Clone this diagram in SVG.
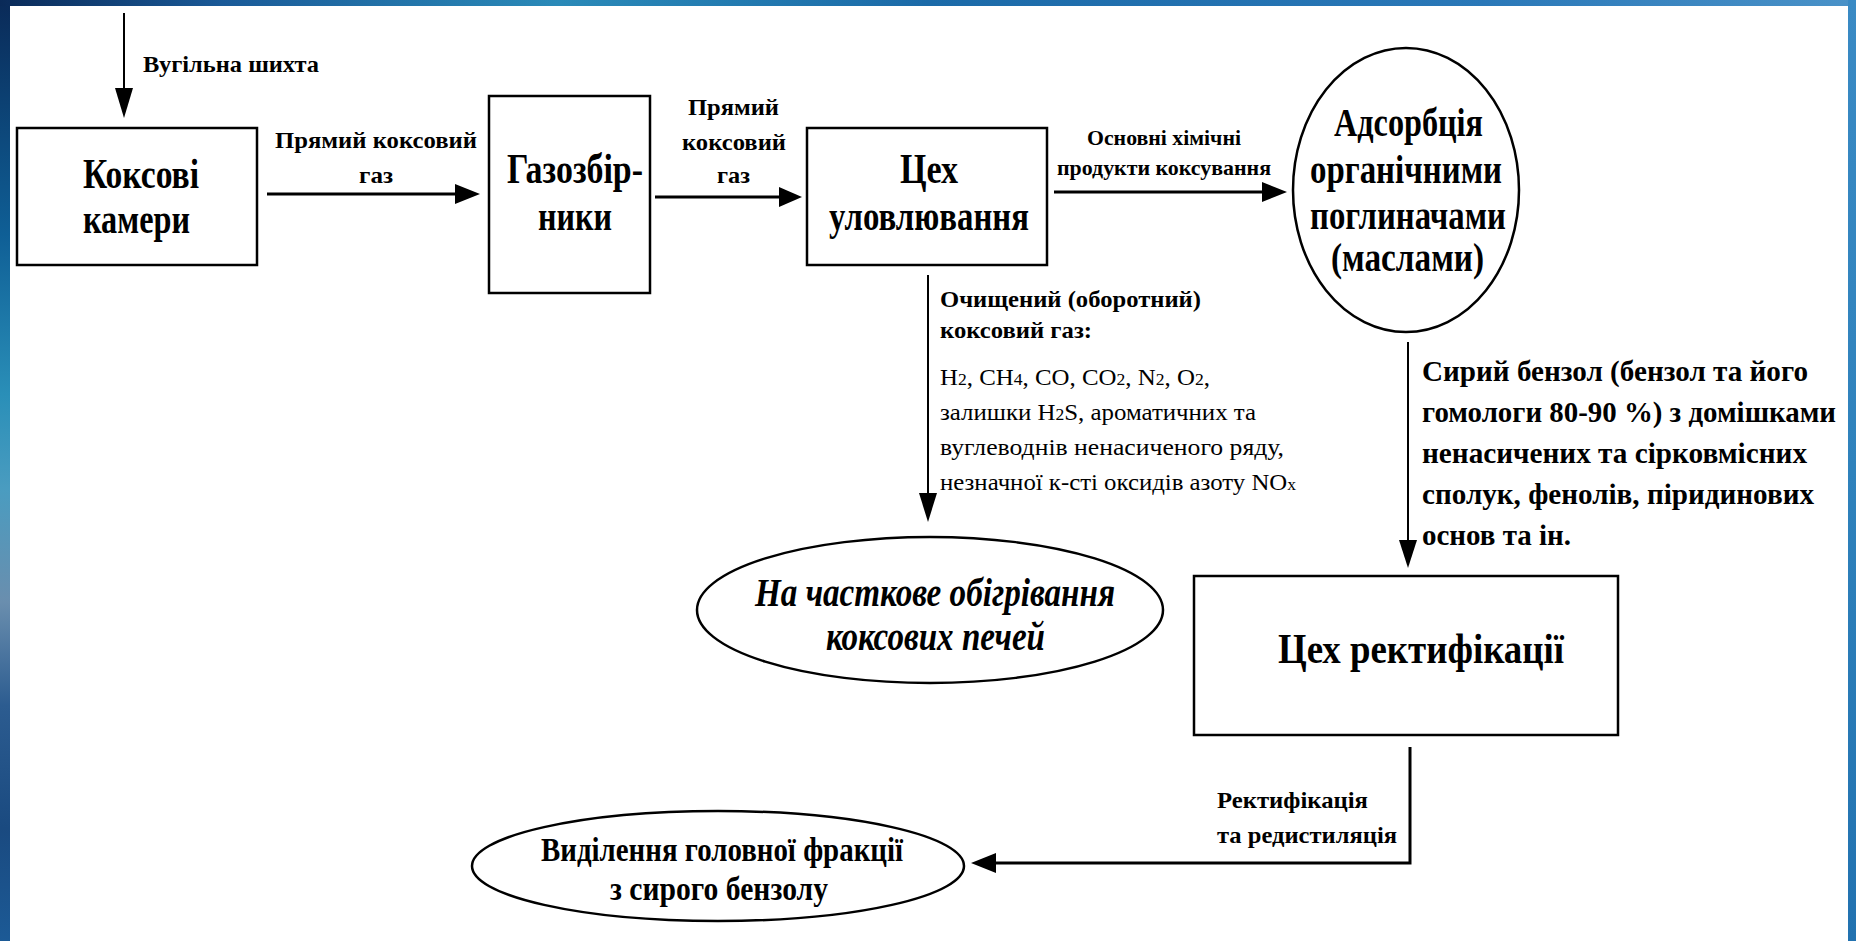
<svg xmlns="http://www.w3.org/2000/svg" width="1856" height="941" viewBox="0 0 1856 941">
<style>
  .box { fill: #ffffff; stroke: #000000; stroke-width: 2.5; }
  .ell { fill: #ffffff; stroke: #000000; stroke-width: 2.5; }
  .t { font-family: "Liberation Serif", "Times New Roman", serif; fill: #000000; }
  .b { font-weight: bold; }
  .i { font-style: italic; }
  .lineH { stroke: #000000; stroke-width: 3; fill: none; }
  .lineV { stroke: #000000; stroke-width: 2; fill: none; }
  .head { fill: #000000; }
</style>
<defs>
  <linearGradient id="gLeft" x1="0" y1="0" x2="0" y2="1">
    <stop offset="0" stop-color="#0a2a58"/>
    <stop offset="0.25" stop-color="#0f5f96"/>
    <stop offset="0.42" stop-color="#2a8fb8"/>
    <stop offset="0.52" stop-color="#4a9cc0"/>
    <stop offset="0.64" stop-color="#6a8eae"/>
    <stop offset="0.75" stop-color="#2c5c90"/>
    <stop offset="0.88" stop-color="#1a4a80"/>
    <stop offset="1" stop-color="#1c5a96"/>
  </linearGradient>
  <linearGradient id="gTop" x1="0" y1="0" x2="1" y2="0">
    <stop offset="0" stop-color="#0a2a58"/>
    <stop offset="0.12" stop-color="#1a5a98"/>
    <stop offset="0.3" stop-color="#2a8ab8"/>
    <stop offset="0.5" stop-color="#1b6aa8"/>
    <stop offset="0.8" stop-color="#2a78b8"/>
    <stop offset="1" stop-color="#4a92c8"/>
  </linearGradient>
  <linearGradient id="gRight" x1="0" y1="0" x2="0" y2="1">
    <stop offset="0" stop-color="#3a8ac4"/>
    <stop offset="0.5" stop-color="#2f82bc"/>
    <stop offset="1" stop-color="#2272b0"/>
  </linearGradient>
</defs>

<rect x="0" y="0" width="1856" height="941" fill="#ffffff"/>
<rect x="0" y="0" width="10" height="941" fill="url(#gLeft)"/>
<rect x="0" y="0" width="1856" height="6" fill="url(#gTop)"/>
<rect x="1848" y="0" width="8" height="941" fill="url(#gRight)"/>

<g id="connectors">
  <!-- Вугільна шихта -->
  <line class="lineV" x1="124" y1="13" x2="124" y2="90"/>
  <polygon class="head" points="115,88 133,88 124,118"/>
  <text class="t b" x="143" y="72" font-size="24" textLength="176" lengthAdjust="spacingAndGlyphs">Вугільна шихта</text>

  <!-- Коксові камери -> Газозбірники -->
  <line class="lineH" x1="267" y1="194" x2="457" y2="194"/>
  <polygon class="head" points="455,184 455,204 480,194"/>
  <text class="t b" x="275" y="148" font-size="24" textLength="202" lengthAdjust="spacingAndGlyphs">Прямий коксовий</text>
  <text class="t b" x="359" y="183" font-size="24" textLength="34" lengthAdjust="spacingAndGlyphs">газ</text>

  <!-- Газозбірники -> Цех уловлювання -->
  <line class="lineH" x1="655" y1="197" x2="781" y2="197"/>
  <polygon class="head" points="779,187 779,207 802,197"/>
  <text class="t b" x="688" y="115" font-size="24" textLength="91" lengthAdjust="spacingAndGlyphs">Прямий</text>
  <text class="t b" x="682" y="150" font-size="24" textLength="104" lengthAdjust="spacingAndGlyphs">коксовий</text>
  <text class="t b" x="717" y="183" font-size="24" textLength="33" lengthAdjust="spacingAndGlyphs">газ</text>

  <!-- Цех уловлювання -> Адсорбція -->
  <line class="lineH" x1="1054" y1="192" x2="1264" y2="192"/>
  <polygon class="head" points="1262,182 1262,202 1287,192"/>
  <text class="t b" x="1087" y="145" font-size="21" textLength="154" lengthAdjust="spacingAndGlyphs">Основні хімічні</text>
  <text class="t b" x="1057" y="175" font-size="21" textLength="214" lengthAdjust="spacingAndGlyphs">продукти коксування</text>

  <!-- Цех уловлювання -> На часткове обігрівання -->
  <line class="lineV" x1="928" y1="275" x2="928" y2="495"/>
  <polygon class="head" points="919,493 937,493 928,522"/>
  <text class="t b" x="940" y="307" font-size="24" textLength="261" lengthAdjust="spacingAndGlyphs">Очищений (оборотний)</text>
  <text class="t b" x="940" y="338" font-size="24" textLength="152" lengthAdjust="spacingAndGlyphs">коксовий газ:</text>
  <text class="t" x="940" y="385" font-size="24" textLength="270" lengthAdjust="spacingAndGlyphs">H<tspan font-size="17">2</tspan>, CH<tspan font-size="17">4</tspan>, CO, CO<tspan font-size="17">2</tspan>, N<tspan font-size="17">2</tspan>, O<tspan font-size="17">2</tspan>,</text>
  <text class="t" x="940" y="420" font-size="24" textLength="316" lengthAdjust="spacingAndGlyphs">залишки H<tspan font-size="17">2</tspan>S, ароматичних та</text>
  <text class="t" x="940" y="455" font-size="24" textLength="344" lengthAdjust="spacingAndGlyphs">вуглеводнів ненасиченого ряду,</text>
  <text class="t" x="940" y="490" font-size="24" textLength="356" lengthAdjust="spacingAndGlyphs">незначної к-сті оксидів азоту NO<tspan font-size="17">x</tspan></text>

  <!-- Адсорбція -> Цех ректифікації -->
  <line class="lineV" x1="1408" y1="342" x2="1408" y2="542"/>
  <polygon class="head" points="1399,540 1417,540 1408,568"/>
  <text class="t b" x="1422" y="381" font-size="30" textLength="386" lengthAdjust="spacingAndGlyphs">Сирий бензол (бензол та його</text>
  <text class="t b" x="1422" y="422" font-size="30" textLength="414" lengthAdjust="spacingAndGlyphs">гомологи 80-90 %) з домішками</text>
  <text class="t b" x="1422" y="463" font-size="30" textLength="385" lengthAdjust="spacingAndGlyphs">ненасичених та сірковмісних</text>
  <text class="t b" x="1422" y="504" font-size="30" textLength="392" lengthAdjust="spacingAndGlyphs">сполук, фенолів, піридинових</text>
  <text class="t b" x="1422" y="545" font-size="30" textLength="149" lengthAdjust="spacingAndGlyphs">основ та ін.</text>

  <!-- Цех ректифікації -> Виділення головної фракції -->
  <polyline class="lineH" points="1410,747 1410,863 994,863" stroke-width="2.5"/>
  <polygon class="head" points="996,853 996,873 971,863"/>
  <text class="t b" x="1217" y="808" font-size="24" textLength="151" lengthAdjust="spacingAndGlyphs">Ректифікація</text>
  <text class="t b" x="1217" y="843" font-size="24" textLength="180" lengthAdjust="spacingAndGlyphs">та редистиляція</text>
</g>

<g id="node-koksovi-kamery">
  <rect class="box" x="17" y="128" width="240" height="137"/>
  <text class="t b" x="83" y="188" font-size="43" textLength="116" lengthAdjust="spacingAndGlyphs">Коксові</text>
  <text class="t b" x="83" y="233" font-size="43" textLength="107" lengthAdjust="spacingAndGlyphs">камери</text>
</g>

<g id="node-gazozbirnyky">
  <rect class="box" x="489" y="96" width="161" height="197"/>
  <text class="t b" x="507" y="183" font-size="43" textLength="136" lengthAdjust="spacingAndGlyphs">Газозбір-</text>
  <text class="t b" x="538" y="230" font-size="43" textLength="74" lengthAdjust="spacingAndGlyphs">ники</text>
</g>

<g id="node-tsekh-ulovliuvannia">
  <rect class="box" x="807" y="128" width="240" height="137"/>
  <text class="t b" x="900" y="183" font-size="43" textLength="58" lengthAdjust="spacingAndGlyphs">Цех</text>
  <text class="t b" x="829" y="230" font-size="43" textLength="200" lengthAdjust="spacingAndGlyphs">уловлювання</text>
</g>

<g id="node-adsorbtsiia">
  <ellipse class="ell" cx="1406" cy="190" rx="113" ry="142"/>
  <text class="t b" x="1334" y="136" font-size="41" textLength="149" lengthAdjust="spacingAndGlyphs">Адсорбція</text>
  <text class="t b" x="1310" y="183" font-size="41" textLength="192" lengthAdjust="spacingAndGlyphs">органічними</text>
  <text class="t b" x="1310" y="229" font-size="41" textLength="196" lengthAdjust="spacingAndGlyphs">поглиначами</text>
  <text class="t b" x="1331" y="271" font-size="41" textLength="153" lengthAdjust="spacingAndGlyphs">(маслами)</text>
</g>

<g id="node-obigrivannia">
  <ellipse class="ell" cx="930" cy="610" rx="233" ry="73"/>
  <text class="t b i" x="755" y="606" font-size="40" textLength="360" lengthAdjust="spacingAndGlyphs">На часткове обігрівання</text>
  <text class="t b i" x="826" y="650" font-size="40" textLength="219" lengthAdjust="spacingAndGlyphs">коксових печей</text>
</g>

<g id="node-tsekh-rektyfikatsii">
  <rect class="box" x="1194" y="576" width="424" height="159"/>
  <text class="t b" x="1278" y="663" font-size="42" textLength="286" lengthAdjust="spacingAndGlyphs">Цех ректифікації</text>
</g>

<g id="node-vydilennia">
  <ellipse class="ell" cx="718" cy="866" rx="246" ry="55"/>
  <text class="t b" x="541" y="861" font-size="34" textLength="362" lengthAdjust="spacingAndGlyphs">Виділення головної фракції</text>
  <text class="t b" x="610" y="900" font-size="34" textLength="218" lengthAdjust="spacingAndGlyphs">з сирого бензолу</text>
</g>
</svg>
